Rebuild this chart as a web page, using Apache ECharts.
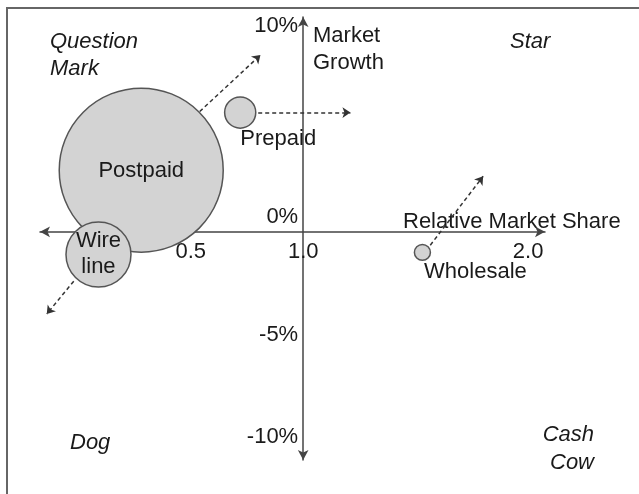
<!DOCTYPE html>
<html>
<head>
<meta charset="utf-8">
<script src="https://cdn.jsdelivr.net/npm/echarts@6/dist/echarts.min.js"></script>
<style>
html,body{margin:0;padding:0;background:#fff;}
#c{width:639px;height:494px;}
</style>
</head>
<body>
<div id="c"></div>
<script>
// ---- data ----
const units = ['Postpaid', 'Wire\nline', 'Prepaid', 'Wholesale'];
const relShare = [0.28, 0.09, 0.72, 1.53];      // relative market share (x)
const growth = [3.0, -1.1, 5.8, -1.0];          // market growth % (y)
const revenue = [100, 15.7, 3.6, 0.95];         // bubble size (relative revenue)
// trend arrows (from -> to)
const trendFromX = [0.54, -0.02, 0.80, 1.565];
const trendFromY = [5.85, -2.4, 5.8, -0.65];
const trendToX = [0.81, -0.14, 1.21, 1.80];
const trendToY = [8.6, -4.0, 5.8, 2.7];
const xTicks = [0.5, 1.0, 2.0];
const yTicks = [10, 0, -5, -10];
const xMin = -0.17, xMax = 2.075, yMin = -11.1, yMax = 10.45;
const crossX = 1.0, crossY = 0;

// ---- styles ----
const FONT = '"Liberation Sans", Arial, sans-serif';
const FS = 22;
const TXT = '#1a1a1a';
const labelOffsets = {
  'Postpaid': [0, 1],
  'Wire\nline': [0, 0],
  'Prepaid': [38, 26],
  'Wholesale': [53, 20]
};

const G = {left: 40, right: 94, top: 17, bottom: 34};
const gridW = 639 - G.left - G.right;
const gridH = 494 - G.top - G.bottom;

const chart = echarts.init(document.getElementById('c'), null, {renderer: 'canvas'});

const bubbleData = units.map((n, i) => ({
  name: n,
  value: [relShare[i], growth[i], revenue[i]],
  label: {offset: labelOffsets[n]}
}));
const arrowData = trendFromX.map((x, i) => ({coords: [[x, trendFromY[i]], [trendToX[i], trendToY[i]]]}));

const option = {
  animation: false,
  backgroundColor: '#fff',
  grid: {left: G.left, right: G.right, top: G.top, bottom: G.bottom, containLabel: false},
  xAxis: {
    type: 'value', min: xMin, max: xMax,
    position: 'bottom',
    offset: -((crossY - yMin) / (yMax - yMin)) * gridH,
    axisLine: {onZero: false, symbol: ['arrow', 'arrow'], symbolSize: [8, 10], lineStyle: {color: '#444', width: 1.5}},
    axisTick: {show: false},
    splitLine: {show: false},
    axisLabel: {customValues: xTicks, formatter: v => v.toFixed(1), fontFamily: FONT, fontSize: FS, color: TXT, margin: 9}
  },
  yAxis: {
    type: 'value', min: yMin, max: yMax,
    position: 'left',
    offset: -((crossX - xMin) / (xMax - xMin)) * gridW,
    axisLine: {onZero: false, symbol: ['arrow', 'arrow'], symbolSize: [8, 10], lineStyle: {color: '#444', width: 1.5}},
    axisTick: {show: false},
    splitLine: {show: false},
    axisLabel: {
      customValues: yTicks,
      formatter: v => v === 0 ? '0%\n' : v + '%',
      fontFamily: FONT, fontSize: FS, color: TXT, margin: 5, lineHeight: 30
    }
  },
  series: [
    {
      type: 'scatter',
      data: bubbleData,
      symbolSize: v => Math.sqrt(v[2]) * 16.4,
      itemStyle: {color: '#d3d3d3', borderColor: '#555', borderWidth: 1.5, opacity: 1},
      label: {show: true, position: 'inside', formatter: p => p.name, fontFamily: FONT, fontSize: FS, color: TXT, lineHeight: 26},
      emphasis: {disabled: true},
      z: 3
    },
    {
      type: 'lines',
      coordinateSystem: 'cartesian2d',
      data: arrowData,
      symbol: ['none', 'arrow'],
      symbolSize: 8,
      lineStyle: {color: '#333', width: 1.5, type: [4, 3], opacity: 1},
      z: 4
    }
  ],
  graphic: [
    {type: 'rect', shape: {x: 7, y: 8, width: 700, height: 600}, style: {fill: 'none', stroke: '#666', lineWidth: 2}, z: 0, silent: true},
    {type: 'text', x: 50, y: 55, style: {text: 'Question\nMark', font: 'italic ' + FS + 'px ' + FONT, fill: TXT, lineHeight: 27, verticalAlign: 'middle'}},
    {type: 'text', x: 510, y: 42, style: {text: 'Star', font: 'italic ' + FS + 'px ' + FONT, fill: TXT, verticalAlign: 'middle'}},
    {type: 'text', x: 70, y: 443, style: {text: 'Dog', font: 'italic ' + FS + 'px ' + FONT, fill: TXT, verticalAlign: 'middle'}},
    {type: 'text', x: 594, y: 449, style: {text: 'Cash\nCow', font: 'italic ' + FS + 'px ' + FONT, fill: TXT, lineHeight: 28, align: 'right', verticalAlign: 'middle'}},
    {type: 'text', x: 313, y: 49, style: {text: 'Market\nGrowth', font: FS + 'px ' + FONT, fill: TXT, lineHeight: 27, verticalAlign: 'middle'}},
    {type: 'text', x: 403, y: 222, style: {text: 'Relative Market Share', font: FS + 'px ' + FONT, fill: TXT, verticalAlign: 'middle'}}
  ]
};
chart.setOption(option);
</script>
</body>
</html>
